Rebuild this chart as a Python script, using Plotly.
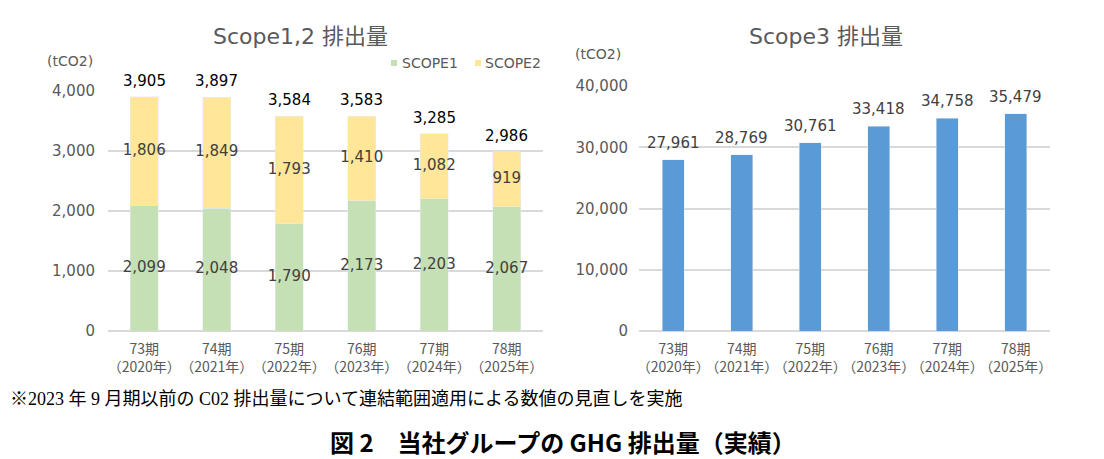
import plotly.graph_objects as go

periods = ["73期<br>（2020年）", "74期<br>（2021年）", "75期<br>（2022年）",
           "76期<br>（2023年）", "77期<br>（2024年）", "78期<br>（2025年）"]
scope1 = [2099, 2048, 1790, 2173, 2203, 2067]
scope2 = [1806, 1849, 1793, 1410, 1082, 919]
totals12 = [3905, 3897, 3584, 3583, 3285, 2986]
scope3 = [27961, 28769, 30761, 33418, 34758, 35479]

OFF = 8  # page body margin
W, H = 1104 - OFF, 459 - OFF
def px(x): return (x - OFF) / W
def py(y): return 1 - (y - OFF) / H

NUMFONT = "DejaVu Sans, Noto Sans CJK JP"
CJK = "Noto Sans CJK JP"
GRAY = "#595959"
C1, C2, C3 = "#C5E0B4", "#FFE699", "#5B9BD5"
fmt = lambda v: f"{v:,}"
lab_font = dict(size=15, color="#404040", family=NUMFONT)

fig = go.Figure()
fig.add_trace(go.Bar(x=periods, y=scope1, name="SCOPE1", marker_color=C1,
                     width=0.39, xaxis="x", yaxis="y", hoverinfo="y", showlegend=False))
fig.add_trace(go.Bar(x=periods, y=scope2, name="SCOPE2", marker_color=C2,
                     width=0.39, xaxis="x", yaxis="y", hoverinfo="y", showlegend=False))
fig.add_trace(go.Scatter(x=periods, y=[v / 2 for v in scope1], mode="text",
                         text=[fmt(v) for v in scope1], textfont=lab_font,
                         showlegend=False, hoverinfo="skip", xaxis="x", yaxis="y"))
fig.add_trace(go.Scatter(x=periods, y=[a + b / 2 for a, b in zip(scope1, scope2)], mode="text",
                         text=[fmt(v) for v in scope2], textfont=lab_font,
                         showlegend=False, hoverinfo="skip", xaxis="x", yaxis="y"))
fig.add_trace(go.Bar(x=periods, y=scope3, name="Scope3", marker_color=C3,
                     width=0.32, showlegend=False, xaxis="x2", yaxis="y2", hoverinfo="y"))

annotations = []
for p, t in zip(periods, totals12):
    annotations.append(dict(x=p, y=t, xref="x", yref="y", text=fmt(t), showarrow=False,
                            yshift=16, font=dict(size=15, color="#000000", family=NUMFONT)))
for p, t in zip(periods, scope3):
    annotations.append(dict(x=p, y=t, xref="x2", yref="y2", text=fmt(t), showarrow=False,
                            yshift=17, font=dict(size=15, color="#404040", family=NUMFONT)))

annotations += [
    dict(text="Scope1,2 排出量", x=px(300), y=py(36), xref="paper", yref="paper",
         xanchor="center", yanchor="middle", showarrow=False,
         font=dict(size=22, color=GRAY, family=NUMFONT)),
    dict(text="Scope3 排出量", x=px(826), y=py(36), xref="paper", yref="paper",
         xanchor="center", yanchor="middle", showarrow=False,
         font=dict(size=22, color=GRAY, family=NUMFONT)),
    dict(text="(tCO2)", x=px(45), y=py(61), xref="paper", yref="paper",
         xanchor="left", yanchor="middle", showarrow=False,
         font=dict(size=14, color=GRAY, family=NUMFONT)),
    dict(text="(tCO2)", x=px(573), y=py(54), xref="paper", yref="paper",
         xanchor="left", yanchor="middle", showarrow=False,
         font=dict(size=14, color=GRAY, family=NUMFONT)),
    dict(text="SCOPE1", x=px(400), y=py(63), xref="paper", yref="paper",
         xanchor="left", yanchor="middle", showarrow=False,
         font=dict(size=14, color=GRAY, family=NUMFONT)),
    dict(text="SCOPE2", x=px(483), y=py(63), xref="paper", yref="paper",
         xanchor="left", yanchor="middle", showarrow=False,
         font=dict(size=14, color=GRAY, family=NUMFONT)),
    dict(text="※2023 年 9 月期以前の C02 排出量について連結範囲適用による数値の見直しを実施",
         x=px(8), y=py(399), xref="paper", yref="paper", xanchor="left", yanchor="middle",
         showarrow=False, font=dict(size=18, color="#000000",
                                    family="Liberation Serif, Noto Sans CJK JP")),
    dict(text="<b>図 2　当社グループの GHG 排出量（実績）</b>", x=px(563), y=py(441),
         xref="paper", yref="paper", xanchor="center", yanchor="middle", showarrow=False,
         font=dict(size=24, color="#000000", family=CJK)),
]

shapes = [
    dict(type="rect", xref="paper", yref="paper", x0=px(391), x1=px(397),
         y0=py(66), y1=py(60), fillcolor=C1, line=dict(width=0)),
    dict(type="rect", xref="paper", yref="paper", x0=px(475), x1=px(481),
         y0=py(66), y1=py(60), fillcolor=C2, line=dict(width=0)),
]

tick_font = dict(size=15, color=GRAY, family=NUMFONT)
cat_font = dict(size=14, color=GRAY, family=CJK)
fig.update_layout(
    width=W, height=H, margin=dict(l=0, r=0, t=0, b=0),
    paper_bgcolor="white", plot_bgcolor="white",
    barmode="stack", font=dict(family=NUMFONT, color=GRAY), showlegend=False,
    xaxis=dict(domain=[px(108), px(543)], anchor="y", tickfont=cat_font, tickangle=0,
               showgrid=False, ticks="", showline=False, automargin=False,
               ticklabelstandoff=8),
    yaxis=dict(domain=[py(331), py(91)], anchor="x", range=[0, 4000], dtick=1000,
               tickformat=",", tickfont=tick_font, gridcolor="#D9D9D9", gridwidth=1.5,
               zeroline=True, zerolinecolor="#D9D9D9", zerolinewidth=1.5, ticks="",
               ticklabelstandoff=12, automargin=False),
    xaxis2=dict(domain=[px(639), px(1050)], anchor="y2", tickfont=cat_font, tickangle=0,
                showgrid=False, ticks="", showline=False, automargin=False,
                ticklabelstandoff=8),
    yaxis2=dict(domain=[py(331), py(86)], anchor="x2", range=[0, 40000], dtick=10000,
                tickformat=",", tickfont=tick_font, gridcolor="#D9D9D9", gridwidth=1.5,
                zeroline=True, zerolinecolor="#D9D9D9", zerolinewidth=1.5, ticks="",
                ticklabelstandoff=10, automargin=False),
    annotations=annotations, shapes=shapes,
)

fig.write_html("out.html")
